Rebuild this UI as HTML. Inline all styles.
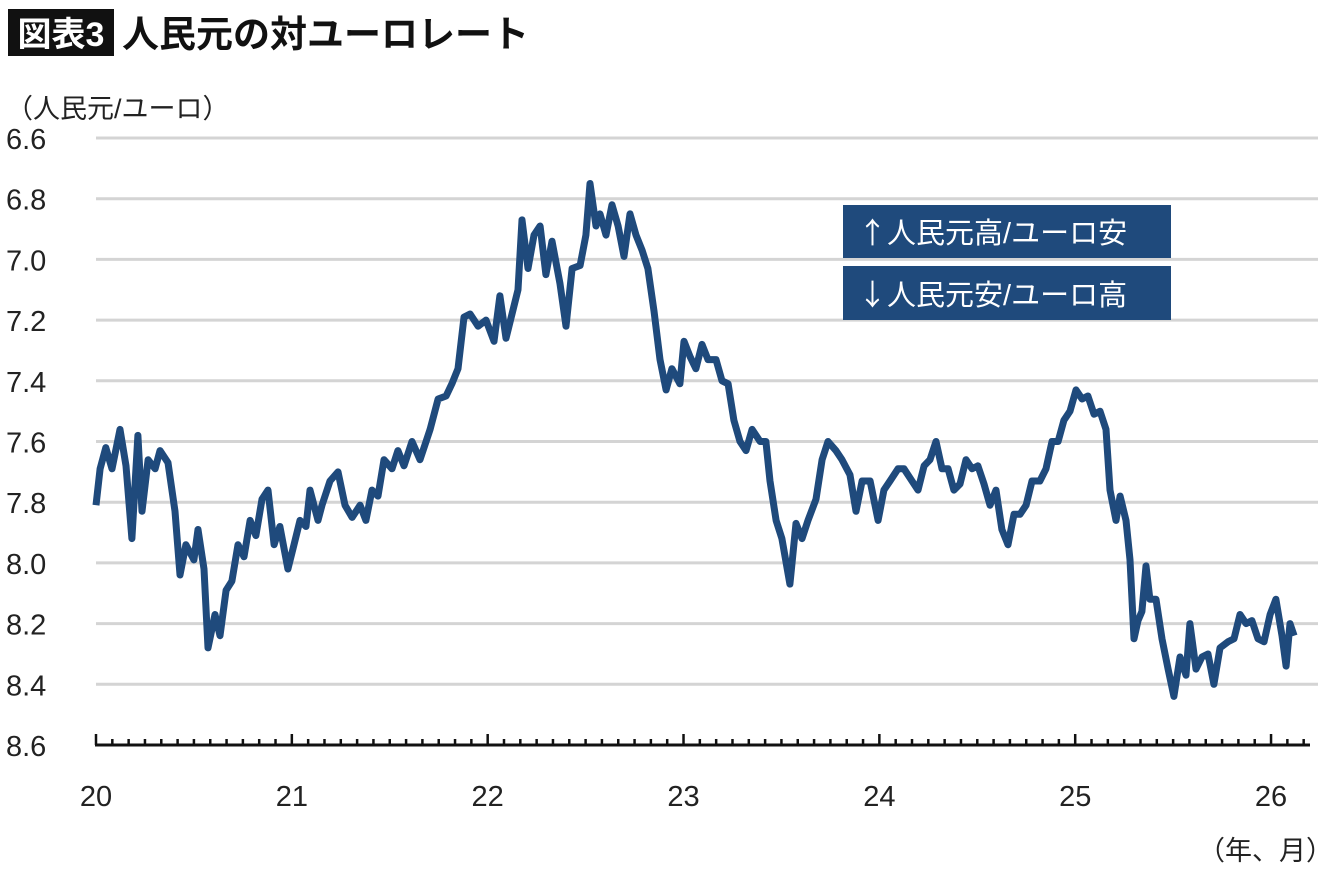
<!DOCTYPE html>
<html><head><meta charset="utf-8"><style>
body{margin:0;background:#fff;width:1340px;height:871px;overflow:hidden;font-family:"Liberation Sans","Noto Sans CJK JP",sans-serif}
</style></head><body>
<svg width="1340" height="871" xmlns="http://www.w3.org/2000/svg" font-family="Liberation Sans, Noto Sans CJK JP, sans-serif">
<rect x="8" y="9" width="106" height="47" fill="#111"/>
<text x="61" y="46" fill="#fff" font-size="34" font-weight="bold" text-anchor="middle">図表3</text>
<text x="122" y="47" fill="#111" font-size="37" font-weight="bold">人民元の対ユーロレート</text>
<text x="6" y="118" fill="#222" font-size="27">（人民元/ユーロ）</text>
<g id="grid"></g><g id="ylab"></g><g id="xaxis"></g>
<path id="line" fill="none" stroke="#1f4a7c" stroke-width="7" stroke-linejoin="round"/>
<rect x="843" y="205" width="328" height="53" fill="#1f4a7c"/>
<text x="858" y="243" fill="#fff" font-size="29"><tspan font-family="Noto Sans CJK JP, sans-serif">↑</tspan>人民元高/ユーロ安</text>
<rect x="843" y="266" width="328" height="54" fill="#1f4a7c"/>
<text x="858" y="305" fill="#fff" font-size="29"><tspan font-family="Noto Sans CJK JP, sans-serif">↓</tspan>人民元安/ユーロ高</text>
<text x="1333" y="860" fill="#222" font-size="27" text-anchor="end">（年、月）</text>
</svg>
<script>
const yTicks=[6.6,6.8,7.0,7.2,7.4,7.6,7.8,8.0,8.2,8.4,8.6];
const xYearLabels=["20","21","22","23","24","25","26"];
const months=[0,0.25,0.6,0.98,1.47,1.84,2.2,2.57,2.82,3.19,3.62,3.92,4.41,4.84,5.15,5.51,6.0,6.25,6.62,6.86,7.29,7.6,7.97,8.33,8.7,9.07,9.44,9.8,10.17,10.54,10.91,11.27,11.76,12.13,12.5,12.87,13.11,13.6,13.85,14.34,14.83,15.26,15.69,16.18,16.54,16.91,17.28,17.65,18.14,18.5,18.87,19.36,19.85,20.47,20.96,21.45,21.81,22.18,22.55,22.92,23.41,23.9,24.39,24.75,25.12,25.49,25.86,26.1,26.47,26.84,27.21,27.57,27.94,28.43,28.8,29.17,29.66,30.02,30.27,30.64,30.88,31.25,31.62,31.99,32.35,32.72,33.09,33.46,33.82,34.19,34.56,34.93,35.29,35.78,36.03,36.4,36.76,37.13,37.5,37.99,38.36,38.73,39.09,39.46,39.83,40.2,40.69,41.05,41.3,41.67,42.03,42.52,42.89,43.26,43.63,44.12,44.49,44.85,45.34,45.71,46.2,46.57,46.94,47.43,47.92,48.28,48.65,49.14,49.51,50.0,50.37,50.74,51.1,51.47,51.84,52.21,52.57,52.94,53.31,53.68,54.04,54.41,54.78,55.15,55.51,55.88,56.25,56.62,56.99,57.35,57.84,58.21,58.58,58.95,59.31,59.68,60.05,60.42,60.78,61.15,61.52,61.89,62.13,62.5,62.75,63.11,63.36,63.6,63.85,64.09,64.34,64.58,64.95,65.32,65.69,66.05,66.42,66.79,67.03,67.4,67.77,68.14,68.5,68.87,69.36,69.73,70.1,70.47,70.83,71.2,71.57,71.94,72.3,72.67,72.92,73.16,73.41];
const rates=[7.81,7.69,7.62,7.69,7.56,7.68,7.92,7.58,7.83,7.66,7.69,7.63,7.67,7.83,8.04,7.94,7.99,7.89,8.02,8.28,8.17,8.24,8.09,8.06,7.94,7.98,7.86,7.91,7.79,7.76,7.94,7.88,8.02,7.94,7.86,7.88,7.76,7.86,7.81,7.73,7.70,7.81,7.85,7.81,7.86,7.76,7.78,7.66,7.69,7.63,7.68,7.60,7.66,7.56,7.46,7.45,7.41,7.36,7.19,7.18,7.22,7.20,7.27,7.12,7.26,7.18,7.10,6.87,7.03,6.92,6.89,7.05,6.94,7.08,7.22,7.03,7.02,6.92,6.75,6.89,6.85,6.92,6.82,6.89,6.99,6.85,6.92,6.97,7.03,7.17,7.33,7.43,7.36,7.41,7.27,7.32,7.36,7.28,7.33,7.33,7.40,7.41,7.53,7.60,7.63,7.56,7.60,7.60,7.73,7.86,7.92,8.07,7.87,7.92,7.86,7.79,7.66,7.60,7.63,7.66,7.71,7.83,7.73,7.73,7.86,7.76,7.73,7.69,7.69,7.73,7.76,7.68,7.66,7.60,7.69,7.69,7.76,7.74,7.66,7.69,7.68,7.74,7.81,7.76,7.89,7.94,7.84,7.84,7.81,7.73,7.73,7.69,7.60,7.60,7.53,7.50,7.43,7.46,7.45,7.51,7.50,7.56,7.76,7.86,7.78,7.86,7.99,8.25,8.19,8.16,8.01,8.12,8.12,8.25,8.35,8.44,8.31,8.37,8.20,8.35,8.31,8.30,8.40,8.28,8.26,8.25,8.17,8.20,8.19,8.25,8.26,8.17,8.12,8.24,8.34,8.20,8.24];
const NS="http://www.w3.org/2000/svg";
const x0=96,pxPerMonth=16.32,yTop=138,yBot=745;
const xS=m=>x0+m*pxPerMonth;
const yS=v=>yTop+(v-6.6)/(8.6-6.6)*(yBot-yTop);
function mk(tag,attrs,parent){const e=document.createElementNS(NS,tag);for(const k in attrs)e.setAttribute(k,attrs[k]);parent.appendChild(e);return e;}
const grid=document.getElementById('grid'),ylab=document.getElementById('ylab'),xa=document.getElementById('xaxis');
yTicks.forEach((v,i)=>{
  if(i<yTicks.length-1){const g=mk('line',{x1:96,x2:1318,y1:yS(v),y2:yS(v),stroke:'#d4d4d4','stroke-width':3},grid);
  
  }
  const t=mk('text',{x:6,y:yS(v)+11,'font-size':29,fill:'#222'},ylab);t.textContent=v.toFixed(1);
  
  
});
const ax=mk('line',{x1:95,x2:1310,y1:yBot,y2:yBot,stroke:'#111','stroke-width':3},xa);


for(let m=0;m<=74;m++){const major=m%12===0;const t=mk('line',{x1:xS(m),x2:xS(m),y1:yBot,y2:yBot-(major?11:6),stroke:'#111','stroke-width':2.5},xa);
  
  }
xYearLabels.forEach((l,i)=>{const t=mk('text',{x:xS(i*12),y:806,'font-size':29,fill:'#222','text-anchor':'middle'},xa);t.textContent=l;
  
  });
document.getElementById('line').setAttribute('d',months.map((m,i)=>(i?'L':'M')+xS(m).toFixed(1)+','+yS(rates[i]).toFixed(1)).join(''));
</script>
</body></html>
